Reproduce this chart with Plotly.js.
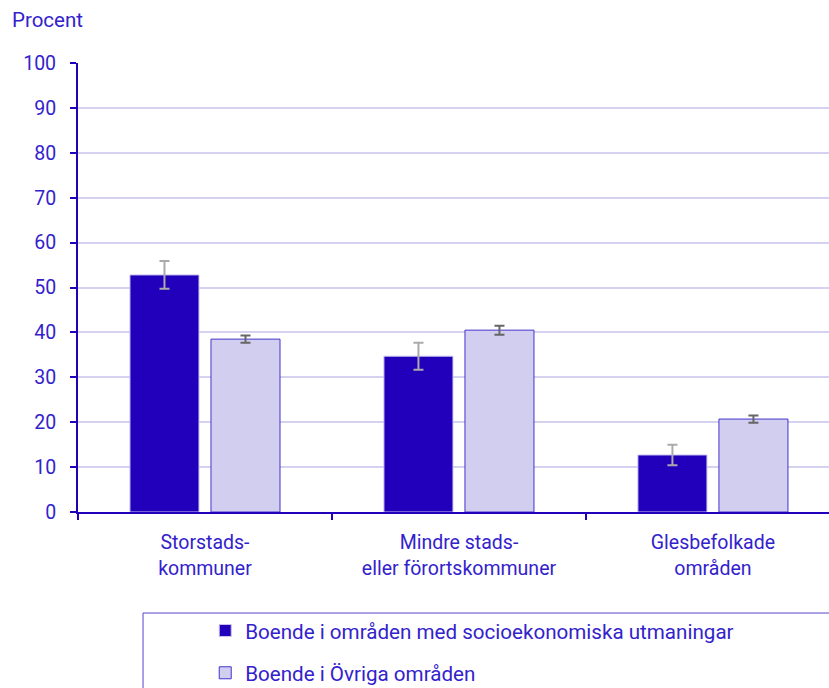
<!DOCTYPE html>
<html>
<head>
<meta charset="utf-8">
<script src="https://cdn.plot.ly/plotly-3.0.1.min.js"></script>
<style>html,body{margin:0;padding:0;background:#fff;}#chart{width:829px;height:688px;}</style>
</head>
<body>
<div id="chart"></div>
<script>
const categories = ["Storstads-<br>kommuner", "Mindre stads-<br>eller förortskommuner", "Glesbefolkade<br>områden"];
const seriesNames = ["Boende i områden med socioekonomiska utmaningar", "Boende i Övriga områden"];
const valuesUtsatta = [52.8, 34.7, 12.7];
const errorsUtsatta = [3.1, 3.0, 2.3];
const valuesOvriga = [38.5, 40.5, 20.7];
const errorsOvriga = [0.8, 1.0, 0.8];
const yTicks = [0, 10, 20, 30, 40, 50, 60, 70, 80, 90, 100];

const textColor = "#3322cc";
const fam = "Roboto, 'Noto Sans', sans-serif";
const font = {family: fam, size: 19.5, color: textColor};

const traces = [
  {
    type: "bar", name: seriesNames[0], x: categories, y: valuesUtsatta,
    marker: {color: "#2200bb", line: {color: "#c8c4ee", width: 1}},
    error_y: {type: "data", array: errorsUtsatta, visible: true, color: "#aaaaaa", thickness: 2, width: 5},
    legendgroup: "a", hoverinfo: "skip"
  },
  {
    type: "bar", name: seriesNames[1], x: categories, y: valuesOvriga,
    marker: {color: "#d2cef0", line: {color: "#4433cc", width: 1}},
    error_y: {type: "data", array: errorsOvriga, visible: true, color: "#666666", thickness: 2, width: 5},
    legendgroup: "b", hoverinfo: "skip"
  }
];

const layout = {
  width: 829, height: 688,
  margin: {l: 78, r: 0, t: 63, b: 176, autoexpand: false},
  paper_bgcolor: "#ffffff", plot_bgcolor: "#ffffff",
  font: font,
  barmode: "group", bargap: 0.362, bargroupgap: 0.148,
  showlegend: true,
  legend: {
    x: 0.1694, y: -0.2196, xanchor: "left", yanchor: "top",
    bgcolor: "rgba(0,0,0,0)", borderwidth: 0,
    font: {family: fam, size: 20.6, color: textColor},
    tracegroupgap: 12.5, traceorder: "grouped"
  },
  xaxis: {
    range: [-0.5, 2.457], automargin: false,
    showgrid: false, showline: true, linecolor: "#2200bb", linewidth: 2,
    ticks: "outside", tickson: "boundaries", ticklen: 6, tickwidth: 2, tickcolor: "#2200bb",
    tickfont: font, zeroline: false, ticklabelstandoff: 12
  },
  yaxis: {
    range: [0, 100], tickvals: yTicks, ticktext: yTicks.map(String), automargin: false,
    showgrid: true, gridcolor: "#d4d2f0", gridwidth: 2,
    showline: true, linecolor: "#2200bb", linewidth: 2,
    ticks: "outside", ticklen: 6, tickwidth: 2, tickcolor: "#2200bb",
    tickfont: font, zeroline: false, ticklabelstandoff: 10
  },
  annotations: [
    {text: "Procent", xref: "paper", yref: "paper", x: -0.090, y: 1.096, xanchor: "left", yanchor: "middle",
     showarrow: false, font: {family: fam, size: 20.5, color: textColor}}
  ],
  shapes: [
    {type: "rect", xref: "paper", yref: "paper", x0: 0.0866, x1: 1.1, y0: -0.45, y1: -0.225,
     line: {color: "#5544cc", width: 1}, fillcolor: "rgba(0,0,0,0)", layer: "above"}
  ]
};

Plotly.newPlot("chart", traces, layout, {staticPlot: true, displayModeBar: false});
</script>
</body>
</html>
